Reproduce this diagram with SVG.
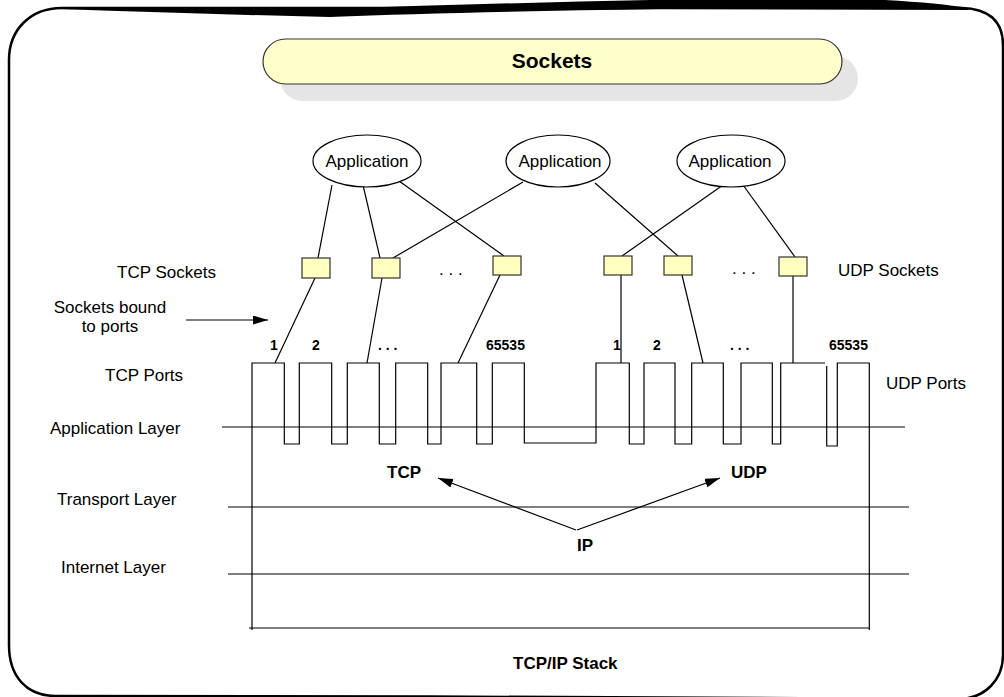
<svg xmlns="http://www.w3.org/2000/svg" width="1004" height="697" viewBox="0 0 1004 697">
<style>
text{font-family:"Liberation Sans",Arial,sans-serif;fill:#000}
.lbl{font-size:17px}
.b{font-weight:bold;font-size:17px}
.num{font-weight:bold;font-size:14px}
.ln{stroke:#000;stroke-width:1.2;fill:none}
.sock{fill:#FFFFBF;stroke:#333;stroke-width:1.2}
.app{fill:#fff;stroke:#000;stroke-width:1.2}
</style>
<defs>
<marker id="ah" markerUnits="userSpaceOnUse" markerWidth="15" markerHeight="10" refX="15" refY="4.5" orient="auto">
<path d="M0,0 L15,4.5 L0,9 Z" fill="#000"/>
</marker>
</defs>
<rect width="1004" height="697" fill="#fff"/>
<g id="frame">
<path d="M62,8 C30,8 9,30 9,60 L9,645 C9,676 26,696 56,696 L430,696.5 L960,699 C985,698 1003,680 1003,655 L1003,45 C1003,22 990,9 962,8 Z" fill="none" stroke="#000" stroke-width="2.5"/>
<path d="M60,7 L120,8 L330,9 Q500,3 650,0 L885,0 Q940,3 968,8 L968,10 L660,9 Q460,12 330,17 Q200,14 60,9 Z" fill="#000"/>
</g>
<g id="title">
<rect x="280" y="56" width="578" height="45" rx="22.5" fill="#E5E5E5"/>
<rect x="263" y="39" width="579" height="45" rx="22.5" fill="#FFFFCC" stroke="#333" stroke-width="1.2"/>
<text x="552" y="68" text-anchor="middle" style="font-weight:bold;font-size:21px">Sockets</text>
</g>
<g id="connectors">
<line class="ln" x1="332" y1="185" x2="318" y2="258"/>
<line class="ln" x1="363" y1="185" x2="380" y2="258"/>
<line class="ln" x1="399" y1="181" x2="504" y2="256"/>
<line class="ln" x1="523" y1="182" x2="393" y2="258"/>
<line class="ln" x1="595" y1="183" x2="678" y2="256"/>
<line class="ln" x1="723" y1="185" x2="622" y2="256"/>
<line class="ln" x1="743" y1="185" x2="795" y2="257"/>
<line class="ln" x1="315" y1="278" x2="275" y2="363"/>
<line class="ln" x1="382" y1="278" x2="367" y2="363"/>
<line class="ln" x1="500" y1="275" x2="458" y2="363"/>
<line class="ln" x1="621" y1="275" x2="621" y2="363"/>
<line class="ln" x1="682" y1="275" x2="703" y2="363"/>
<line class="ln" x1="793" y1="276" x2="793" y2="363"/>
<line class="ln" x1="186" y1="320" x2="268" y2="320" marker-end="url(#ah)"/>
<line class="ln" x1="576" y1="530" x2="438" y2="478" marker-end="url(#ah)"/>
<line class="ln" x1="577" y1="530" x2="720" y2="478" marker-end="url(#ah)"/>
</g>
<g id="applications">
<g id="app1"><ellipse class="app" cx="367" cy="161" rx="54" ry="26"/><text class="lbl" x="367" y="167" text-anchor="middle">Application</text></g>
<g id="app2"><ellipse class="app" cx="558" cy="161" rx="52" ry="26"/><text class="lbl" x="560" y="167" text-anchor="middle">Application</text></g>
<g id="app3"><ellipse class="app" cx="731" cy="161" rx="54" ry="26"/><text class="lbl" x="730" y="167" text-anchor="middle">Application</text></g>
</g>
<g id="sockets">
<rect id="s1" class="sock" x="302" y="258" width="28" height="20"/>
<rect id="s2" class="sock" x="372" y="258" width="28" height="20"/>
<rect id="s3" class="sock" x="493" y="256" width="28" height="19"/>
<rect id="s4" class="sock" x="604" y="256" width="28" height="19"/>
<rect id="s5" class="sock" x="664" y="256" width="28" height="19"/>
<rect id="s6" class="sock" x="779" y="257" width="28" height="19"/>
<text class="lbl" x="439" y="275">. . .</text>
<text class="lbl" x="732" y="274">. . .</text>
</g>
<g id="stack">
<path class="ln" d="M252,630 L252,363 L284.3,363 L284.3,444 L299.3,444 L299.3,363 L331.7,363 L331.7,444 L347.3,444 L347.3,363 L379.3,363 L379.3,444 L395.7,444 L395.7,363 L427.7,363 L427.7,444 L441,444 L441,363 L476.7,363 L476.7,444 L492.3,444 L492.3,363 L524.3,363 L524.3,443 L596,443 L596,363 L629.3,363 L629.3,444 L644,444 L644,363 L675,363 L675,444 L691.7,444 L691.7,363 L723.3,363 L723.3,444 L741,444 L741,363 L772.3,363 L772.3,444 L780.7,444 L780.7,363 L825,363"/>
<path class="ln" d="M826.7,366 L826.7,446 L837.3,446 L837.3,363 L869.3,363 L869.3,630"/>
<line class="ln" x1="249" y1="628" x2="869" y2="628"/>
<line class="ln" x1="222" y1="427" x2="905" y2="427"/>
<line class="ln" x1="228" y1="507" x2="909" y2="507"/>
<line class="ln" x1="228" y1="574" x2="909" y2="574"/>
</g>
<g id="labels">
<text class="lbl" x="117" y="278">TCP Sockets</text>
<text class="lbl" x="110" y="313" text-anchor="middle">Sockets bound</text>
<text class="lbl" x="110" y="332" text-anchor="middle">to ports</text>
<text class="lbl" x="105" y="381">TCP Ports</text>
<text class="lbl" x="50" y="434">Application Layer</text>
<text class="lbl" x="57" y="505">Transport Layer</text>
<text class="lbl" x="61" y="573">Internet Layer</text>
<text class="lbl" x="838" y="276">UDP Sockets</text>
<text class="lbl" x="886" y="389">UDP Ports</text>
<text class="b" x="387" y="478">TCP</text>
<text class="b" x="731" y="478">UDP</text>
<text class="b" x="577" y="551">IP</text>
<text class="b" x="513" y="669">TCP/IP Stack</text>
<text class="num" x="270" y="350">1</text>
<text class="num" x="312" y="350">2</text>
<text class="num" x="378" y="350">. . .</text>
<text class="num" x="486" y="350">65535</text>
<text class="num" x="613" y="350">1</text>
<text class="num" x="653" y="350">2</text>
<text class="num" x="730" y="350">. . .</text>
<text class="num" x="829" y="350">65535</text>
</g>
</svg>
